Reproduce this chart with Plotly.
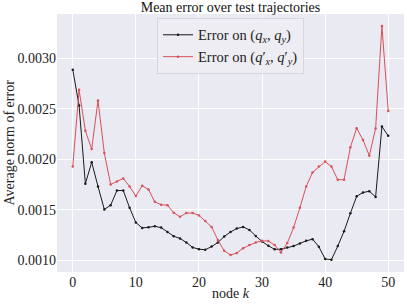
import plotly.graph_objects as go

nodes = list(range(51))
err_q = [0.002885, 0.002530, 0.001758, 0.001970, 0.001730, 0.001503, 0.001545, 0.001690, 0.001690, 0.001520,
         0.001373, 0.001320, 0.001326, 0.001336, 0.001323, 0.001280, 0.001238, 0.001216, 0.001176, 0.001127,
         0.001110, 0.001104, 0.001135, 0.001176, 0.001235, 0.001280, 0.001314, 0.001330, 0.001300, 0.001240,
         0.001186, 0.001143, 0.001108, 0.001110, 0.001127, 0.001140, 0.001167, 0.001192, 0.001209, 0.001134,
         0.001013, 0.001006, 0.001140, 0.001287, 0.001464, 0.001633, 0.001670, 0.001683, 0.001627, 0.002323,
         0.002231]
err_qp = [0.001927, 0.002686, 0.002280, 0.002100, 0.002580, 0.002060, 0.001750, 0.001780, 0.001810, 0.001730,
          0.001635, 0.001738, 0.001700, 0.001578, 0.001549, 0.001545, 0.001470, 0.001430, 0.001467, 0.001467,
          0.001444, 0.001388, 0.001330, 0.001200, 0.001094, 0.001052, 0.001072, 0.001120, 0.001150, 0.001176,
          0.001192, 0.001190, 0.001150, 0.001078, 0.001170, 0.001323, 0.001520, 0.001730, 0.001869, 0.001927,
          0.001976, 0.001927, 0.001797, 0.001797, 0.002118, 0.002307, 0.002190, 0.002035, 0.002304, 0.003317,
          0.002477]
x_ticks = [0, 10, 20, 30, 40, 50]
y_ticks = [0.0010, 0.0015, 0.0020, 0.0025, 0.0030]
y_tick_text = ["0.0010", "0.0015", "0.0020", "0.0025", "0.0030"]

FONT = "Liberation Serif"
L, R, T, B = 57, 3, 14, 32
W, H = 407, 304

fig = go.Figure()
fig.add_trace(go.Scatter(
    x=nodes, y=err_q, mode="lines+markers",
    name="Error on (<i>q<sub>x</sub></i>, <i>q<sub>y</sub></i>)",
    line=dict(color="#1a1a1a", width=1), marker=dict(size=2.5, color="#1a1a1a")))
fig.add_trace(go.Scatter(
    x=nodes, y=err_qp, mode="lines+markers",
    name="Error on (<i>q</i>′<sub><i>x</i></sub>, <i>q</i>′<sub><i>y</i></sub>)",
    line=dict(color="#d8505a", width=1), marker=dict(size=2.5, color="#d8505a")))

fig.update_layout(
    width=W, height=H,
    margin=dict(l=L, r=R, t=T, b=B, autoexpand=False),
    paper_bgcolor="white", plot_bgcolor="#EAEAF2",
    font=dict(family=FONT, size=14, color="#222"),
    title=dict(text="Mean error over test trajectories", x=(L + W - R) / 2 / W, xanchor="center",
               yref="container", y=1 - 7.5 / H, yanchor="middle",
               font=dict(family=FONT, size=14, color="#111")),
    showlegend=True,
    legend=dict(x=0.5, xanchor="center", y=0.985, yanchor="top",
                bgcolor="#EDEDF3", bordercolor="#D6D6DC", borderwidth=1,
                font=dict(family=FONT, size=14.5, color="#222"),
                tracegroupgap=0, itemwidth=30),
    xaxis=dict(range=[-2.5, 52.5], tickvals=x_ticks, showgrid=True, gridcolor="white", gridwidth=1,
               zeroline=False, showline=False, ticks="", automargin=False),
    yaxis=dict(range=[0.000884, 0.003436], tickvals=y_ticks, ticktext=y_tick_text, showgrid=True,
               gridcolor="white", gridwidth=1, zeroline=False, showline=False, ticks="", automargin=False),
    annotations=[
        dict(text="node <i>k</i>", xref="paper", yref="paper", x=0.5, xanchor="center",
             y=-(293 - (H - B)) / (H - T - B), yanchor="middle", showarrow=False,
             font=dict(family=FONT, size=14, color="#222")),
        dict(text="Average norm of error", xref="paper", yref="paper", textangle=-90,
             x=-(L - 8.5) / (W - L - R), xanchor="center", y=0.5, yanchor="middle", showarrow=False,
             font=dict(family=FONT, size=14, color="#222")),
    ],
)

fig.write_html("out.html", config={"displayModeBar": False},
               post_script="document.body.style.margin='0';document.body.style.overflow='hidden';")
